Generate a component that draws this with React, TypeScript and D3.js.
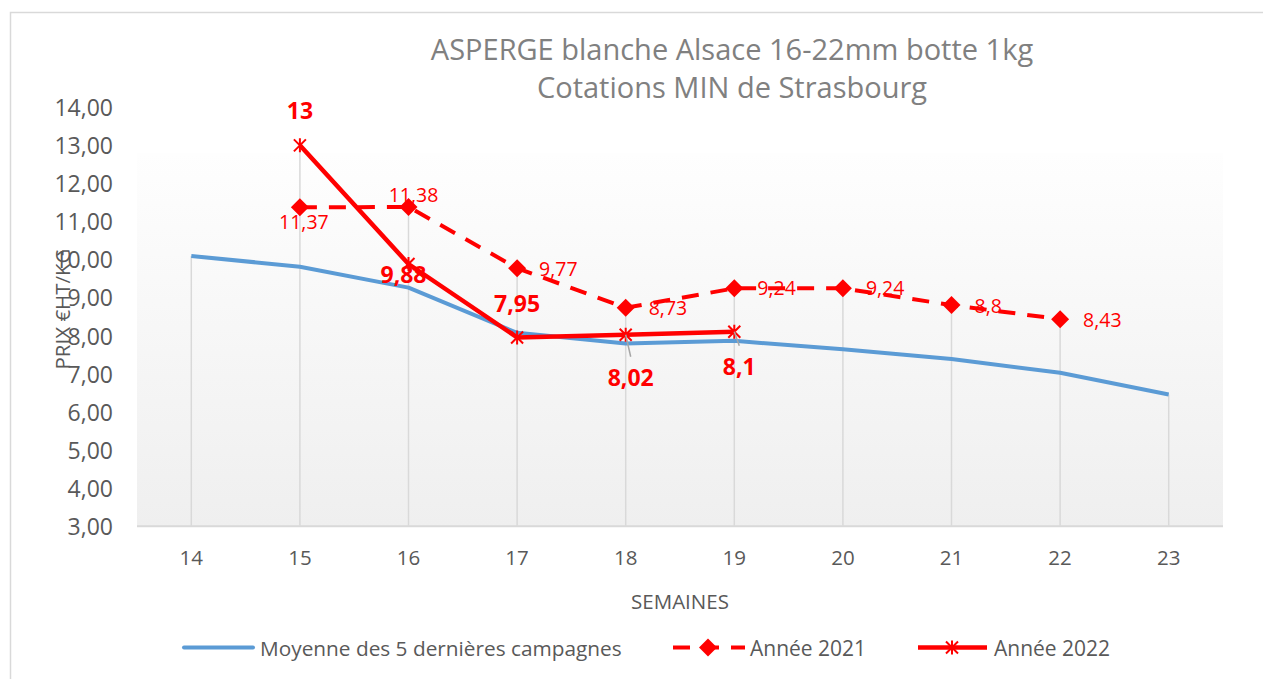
import React from "react";
import * as d3 from "d3";

// ---------- DATA ----------
const weeks = [14, 15, 16, 17, 18, 19, 20, 21, 22, 23];
const moyenneValues = [10.09, 9.81, 9.26, 8.07, 7.79, 7.86, 7.64, 7.38, 7.02, 6.45];
const weeks2021 = [15, 16, 17, 18, 19, 20, 21, 22];
const values2021 = [11.37, 11.38, 9.77, 8.73, 9.24, 9.24, 8.8, 8.43];
const weeks2022 = [15, 16, 17, 18, 19];
const values2022 = [13, 9.88, 7.95, 8.02, 8.1];
const yTicks = [3, 4, 5, 6, 7, 8, 9, 10, 11, 12, 13, 14];
const titleLines = ["ASPERGE blanche Alsace 16-22mm botte 1kg", "Cotations MIN de Strasbourg"];
const xAxisTitle = "SEMAINES";
const yAxisTitle = "PRIX €HT/KG";
const legendLabels = ["Moyenne des 5 dernières campagnes", "Année 2021", "Année 2022"];

// label placement (style): [dx, dy, anchor]
const labelPos2021: [number, number, string][] = [
  [4, 14, "middle"], [5, -12, "middle"], [22, 0, "start"], [23, 0, "start"],
  [23, -1, "start"], [23, -1, "start"], [23, 0, "start"], [23, 0, "start"],
];
const labelPos2022: [number, number, string][] = [
  [0, -35, "middle"], [-5, 10, "middle"], [0, -34, "middle"], [5, 42, "middle"], [5, 34, "middle"],
];
const leader2022 = [false, false, false, true, true];

const FONT = "'Open Sans', sans-serif";
const W = 1263;
const H = 679;

const fmt = (v: number) => String(v).replace(".", ",");

export default function App() {
  const x = d3.scalePoint<number>().domain(weeks).range([137, 1223]).padding(0.5);
  const y = d3.scaleLinear().domain([3, 14]).range([525.7, 107.3]);

  const line = d3
    .line<[number, number]>()
    .x((d) => x(d[0]) as number)
    .y((d) => y(d[1]));

  const moy: [number, number][] = weeks.map((w, i) => [w, moyenneValues[i]]);
  const s21: [number, number][] = weeks2021.map((w, i) => [w, values2021[i]]);
  const s22: [number, number][] = weeks2022.map((w, i) => [w, values2022[i]]);

  // drop lines from the highest point of each week to the axis
  const dropTops = weeks.map((w) => {
    const vals: number[] = [];
    moy.forEach((d) => d[0] === w && vals.push(d[1]));
    s21.forEach((d) => d[0] === w && vals.push(d[1]));
    s22.forEach((d) => d[0] === w && vals.push(d[1]));
    return [w, d3.max(vals) as number] as [number, number];
  });

  const red = "#ff0000";
  const blue = "#5b9bd5";
  const grid = "#d9d9d9";
  const textCol = "#595959";

  const diamond = "M0,-9L9,0L0,9L-9,0Z";
  const star = "M-6,-6L6,6M-6,6L6,-6M0,-7L0,7";

  const legY = 647.5;

  return (
    <div style={{ position: "absolute", left: 0, top: 0 }}>
      <svg width={W} height={H} style={{ display: "block", fontFamily: FONT }}>
        <defs>
          <linearGradient id="plotbg" x1="0" y1="0" x2="0" y2="1">
            <stop offset="0%" stopColor="#fefefe" />
            <stop offset="100%" stopColor="#efefef" />
          </linearGradient>
        </defs>
        <rect x={0} y={0} width={W} height={H} fill="#ffffff" />
        {/* outer chart border */}
        <rect x={10.5} y={12.5} width={W + 20} height={H + 20} fill="none" stroke={grid} strokeWidth={1.5} />

        {/* title */}
        {titleLines.map((t, i) => (
          <text key={i} x={732} y={48 + i * 38} textAnchor="middle" dominantBaseline="central" fontSize={29} fill="#808080">
            {t}
          </text>
        ))}

        {/* plot area */}
        <rect x={137} y={153} width={1086} height={373} fill="url(#plotbg)" />

        {/* drop lines */}
        {dropTops.map((d, i) => (
          <line key={i} x1={x(d[0])} x2={x(d[0])} y1={y(d[1])} y2={y(3)} stroke={grid} strokeWidth={1.5} />
        ))}

        {/* x axis line */}
        <line x1={137} x2={1223} y1={y(3) + 0.5} y2={y(3) + 0.5} stroke={grid} strokeWidth={2} />

        {/* y tick labels */}
        {yTicks.map((t) => (
          <text key={t} x={113} y={y(t)} textAnchor="end" dominantBaseline="central" fontSize={23} fill={textCol}>
            {t.toFixed(2).replace(".", ",")}
          </text>
        ))}

        {/* x tick labels */}
        {weeks.map((w) => (
          <text key={w} x={x(w)} y={557} textAnchor="middle" dominantBaseline="central" fontSize={20.5} fill={textCol}>
            {w}
          </text>
        ))}

        {/* axis titles */}
        <text x={680} y={601} textAnchor="middle" dominantBaseline="central" fontSize={20.5} fill={textCol}>
          {xAxisTitle}
        </text>
        <text
          transform={`translate(62,309) rotate(-90)`}
          textAnchor="middle"
          dominantBaseline="central"
          fontSize={20.5}
          fill={textCol}
        >
          {yAxisTitle}
        </text>

        {/* series: moyenne */}
        <path d={line(moy) as string} fill="none" stroke={blue} strokeWidth={4} strokeLinejoin="round" />

        {/* series: 2021 */}
        <path d={line(s21) as string} fill="none" stroke={red} strokeWidth={4} strokeDasharray="17 12" />
        {s21.map((d, i) => (
          <path key={i} d={diamond} transform={`translate(${x(d[0])},${y(d[1])})`} fill={red} />
        ))}

        {/* series: 2022 */}
        <path d={line(s22) as string} fill="none" stroke={red} strokeWidth={4.5} strokeLinejoin="round" />
        {s22.map((d, i) => (
          <path key={i} d={star} transform={`translate(${x(d[0])},${y(d[1])})`} fill="none" stroke={red} strokeWidth={2} />
        ))}

        {/* labels 2021 */}
        {s21.map((d, i) => {
          const [dx, dy, anchor] = labelPos2021[i];
          return (
            <text
              key={i}
              x={(x(d[0]) as number) + dx}
              y={y(d[1]) + dy}
              textAnchor={anchor as any}
              dominantBaseline="central"
              fontSize={19.5}
              fill={red}
            >
              {fmt(d[1])}
            </text>
          );
        })}

        {/* labels 2022 */}
        {s22.map((d, i) => {
          const [dx, dy, anchor] = labelPos2022[i];
          const px = x(d[0]) as number;
          const py = y(d[1]);
          return (
            <g key={i}>
              {leader2022[i] && (
                <line x1={px} y1={py} x2={px + dx} y2={py + dy - 20} stroke="#a6a6a6" strokeWidth={1.5} />
              )}
              <text
                x={px + dx}
                y={py + dy}
                textAnchor={anchor as any}
                dominantBaseline="central"
                fontSize={23}
                fontWeight="bold"
                fill={red}
              >
                {fmt(d[1])}
              </text>
            </g>
          );
        })}

        {/* legend */}
        <g>
          <line x1={184} x2={253} y1={legY} y2={legY} stroke={blue} strokeWidth={4} strokeLinecap="round" />
          <text x={260} y={legY} dominantBaseline="central" fontSize={20.8} fill={textCol}>
            {legendLabels[0]}
          </text>

          <line x1={673} x2={745} y1={legY} y2={legY} stroke={red} strokeWidth={4} strokeDasharray="17 12" />
          <path d={diamond} transform={`translate(708,${legY})`} fill={red} />
          <text x={750} y={legY} dominantBaseline="central" fontSize={21} fill={textCol}>
            {legendLabels[1]}
          </text>

          <line x1={918} x2={987} y1={legY} y2={legY} stroke={red} strokeWidth={4.5} />
          <path d={star} transform={`translate(952,${legY})`} fill="none" stroke={red} strokeWidth={2} />
          <text x={994} y={legY} dominantBaseline="central" fontSize={21} fill={textCol}>
            {legendLabels[2]}
          </text>
        </g>
      </svg>
    </div>
  );
}
